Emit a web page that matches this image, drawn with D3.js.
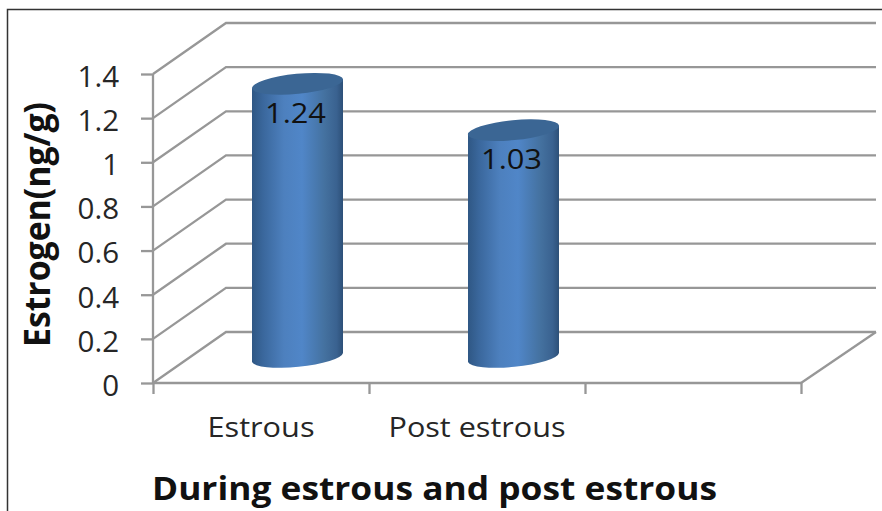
<!DOCTYPE html>
<html>
<head>
<meta charset="utf-8">
<script src="https://d3js.org/d3.v7.min.js"></script>
<style>
html, body { margin: 0; padding: 0; background: #fff; }
svg { display: block; }
text { font-family: "Open Sans", "Noto Sans", sans-serif; fill: #262626; }
</style>
</head>
<body>
<svg id="chart" width="882" height="511"></svg>
<script>
// Chart values
const categories = ["Estrous", "Post estrous", ""];
const estrogen = [1.24, 1.03];
const valueTicks = [0, 0.2, 0.4, 0.6, 0.8, 1, 1.2, 1.4];
const xTitle = "During estrous and post estrous";
const yTitle = "Estrogen(ng/g)";
const categoryWidths = [107, 177];

const svg = d3.select("#chart");
const gridColor = "#979797";

// Front plane scales, plus the receding depth of the 3-D box
const x = d3.scaleBand().domain(categories).range([153, 801]).padding(0);
const xEdges = d3.scaleLinear().domain([0, categories.length]).range([153, 801]);
const y = d3.scaleLinear().domain([0, 1.4]).range([383, 74]);
const depthX = d3.scaleLinear().domain([0, 1]).range([0, 73]);
const depthY = d3.scaleLinear().domain([0, 1]).range([0, -51]);

// Page frame: left and top rules only
svg.append("path")
  .attr("d", "M7.5,511V9.5H882")
  .attr("fill", "none").attr("stroke", "#333").attr("stroke-width", 1.5);

// Back wall gridlines and the diagonals on the side wall
const grid = svg.append("g").attr("fill", "none").attr("stroke", gridColor).attr("stroke-width", 2.3);
grid.selectAll("path.wall").data(valueTicks).join("path")
  .attr("class", "wall")
  .attr("d", v => {
    const x0 = x.range()[0], x1 = x.range()[1];
    return d3.line()([[x0, y(v)], [x0 + depthX(1), y(v) + depthY(1)], [x1 + 75, y(v) + depthY(1)]]);
  });

// Floor edge running back on the right
grid.append("path").attr("d", d3.line()([
  [x.range()[1], y(0)],
  [x.range()[1] + 75, y(0) + depthY(1)]
]));

// Value axis on the front plane
const yAxis = svg.append("g")
  .attr("transform", `translate(${x.range()[0]},0)`)
  .call(d3.axisLeft(y).tickValues(valueTicks).tickSize(12).tickPadding(22).tickFormat(d3.format("~g")));
yAxis.selectAll("line, path").attr("stroke", gridColor).attr("stroke-width", 2.3);
yAxis.select("path").attr("d", `M0,${y(1.4)}V${y(0)}`);
yAxis.selectAll("text").attr("font-size", 29.5).attr("dy", "0.42em").style("font-family", '"Open Sans"');

// Category axis: ticks sit on the band edges
const xAxis = svg.append("g")
  .attr("transform", `translate(0,${y(0)})`)
  .call(d3.axisBottom(xEdges).ticks(categories.length).tickSize(11).tickFormat(""));
xAxis.selectAll("line, path").attr("stroke", gridColor).attr("stroke-width", 2.3);
xAxis.select("path").attr("d", `M${x.range()[0]},0H${x.range()[1]}`);

svg.selectAll("text.cat").data(categories.filter(c => c)).join("text")
  .attr("class", "cat")
  .attr("x", d => x(d) + x.bandwidth() / 2)
  .attr("y", 437)
  .attr("text-anchor", "middle")
  .attr("font-size", 27)
  .attr("textLength", (d, i) => categoryWidths[i])
  .attr("lengthAdjust", "spacingAndGlyphs")
  .text(d => d);

// Cylinder gradients
const defs = svg.append("defs");
const side = defs.append("linearGradient").attr("id", "cylSide").attr("x1", 0).attr("x2", 1).attr("y1", 0).attr("y2", 0);
[[0, "#2f5784"], [0.12, "#3a679c"], [0.35, "#4d80be"], [0.55, "#5086c8"], [0.8, "#44719f"], [0.93, "#3a6290"], [1, "#2d5078"]]
  .forEach(([o, c]) => side.append("stop").attr("offset", o).attr("stop-color", c));

// Cylinders: centred in their band, half way back through the box
const halfW = 45.5, tilt = 4.5, rx = 45.8, ry = 10, rot = -5.6;
const bars = svg.append("g");
estrogen.forEach((v, i) => {
  const cx = x(categories[i]) + x.bandwidth() / 2 + depthX(0.5);
  const by = y(0) + depthY(0.5);
  const ty = y(v) + depthY(0.5);
  const body = `M${cx - halfW},${ty + tilt}` +
    `L${cx - halfW},${by + tilt}` +
    `A${rx},${ry} ${rot} 0 0 ${cx + halfW},${by - tilt}` +
    `L${cx + halfW},${ty - tilt}Z`;
  bars.append("path").attr("d", body).attr("fill", "url(#cylSide)");
  bars.append("ellipse")
    .attr("cx", cx).attr("cy", ty).attr("rx", rx).attr("ry", ry)
    .attr("transform", `rotate(${rot} ${cx} ${ty})`)
    .attr("fill", "#3b6694");
  bars.append("text")
    .attr("x", cx - 2).attr("y", ty + 39)
    .attr("text-anchor", "middle").attr("font-size", 28)
    .attr("textLength", 61).attr("lengthAdjust", "spacingAndGlyphs")
    .style("fill", "#111")
    .text(d3.format(".2f")(v));
});

// Axis titles
svg.append("text")
  .attr("x", 434.5).attr("y", 500)
  .attr("text-anchor", "middle")
  .attr("font-size", 32).attr("font-weight", 700)
  .attr("textLength", 565).attr("lengthAdjust", "spacingAndGlyphs")
  .style("fill", "#111")
  .text(xTitle);

svg.append("text")
  .attr("transform", "translate(50,224.5) rotate(-90)")
  .attr("text-anchor", "middle")
  .attr("font-size", 36).attr("font-weight", 700)
  .attr("textLength", 245).attr("lengthAdjust", "spacingAndGlyphs")
  .style("fill", "#111")
  .text(yTitle);
</script>
</body>
</html>
